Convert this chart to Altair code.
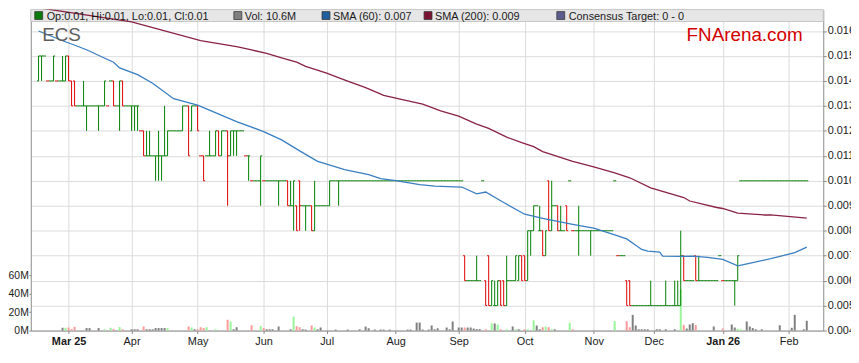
import altair as alt
import pandas as pd

# ---------------- data (prices in thousandths of a dollar, one row per weekday from 17 Feb 2025) -------------
OPEN = [
    14, 15, 15, 14, 14, 14, 14, 14, 14, 14,
    15, 14, 14, 13, 13, 13, 13, 13, 13, 13,
    13, 13, 13, 13, 14, 14, 13, 13, 14, 13,
    13, 13, 13, 13, 12, 12, 11, 11, 11, 11,
    11, 11, 11, 11, 12, 12, 12, 12, 12, 13,
    13, 12, 13, 13, 11, 11, 11, 11, 11, 11,
    12, 11, 12, 12, 11, 12, 12, 12, 12, 11,
    11, 10, 10, 10, 10, 10, 10, 10, 10, 10,
    10, 10, 10, 10, 9, 9, 9, 10, 9, 9,
    9, 9, 8, 9, 9, 9, 9, 9, 10, 10,
    10, 10, 10, 10, 10, 10, 10, 10, 10, 10,
    10, 10, 10, 10, 10, 10, 10, 10, 10, 10,
    10, 10, 10, 10, 10, 10, 10, 10, 10, 10,
    10, 10, 10, 10, 10, 10, 10, 10, 10, 10,
    10, 10, 7, 6, 6, 6, 6, 6, 10, 6,
    7, 5, 5, 5, 6, 6, 5, 6, 6, 6,
    6, 7, 7, 6, 8, 8, 9, 8, 8, 7,
    10, 8, 9, 9, 8, 8, 9, 10, 8, 8,
    8, 8, 8, 8, 8, 8, 8, 8, 8, 8,
    8, 8, 10, 7, 7, 7, 6, 6, 5, 5,
    5, 5, 5, 5, 5, 5, 5, 5, 5, 5,
    5, 5, 5, 5, 5, 7, 6, 6, 6, 7,
    6, 6, 6, 6, 6, 6, 6, 7, 6, 6,
    6, 6, 6, 6, 10, 10, 10, 10, 10, 10,
    10, 10, 10, 10, 10, 10, 10, 10, 10, 10,
    10, 10, 10, 10, 10, 10, 10,
]
HIGH = [
    15, 15, 15, 14, 14, 15, 14, 14, 15, 15,
    15, 14, 14, 13, 13, 14, 13, 13, 13, 13,
    13, 13, 14, 13, 14, 14, 13, 14, 14, 13,
    13, 13, 13, 13, 12, 12, 12, 12, 11, 11,
    12, 11, 13, 12, 12, 12, 12, 12, 13, 13,
    13, 13, 13, 13, 11, 11, 11, 12, 11, 12,
    12, 12, 12, 12, 12, 12, 12, 12, 12, 11,
    11, 10, 10, 10, 11, 10, 10, 10, 10, 10,
    10, 10, 10, 10, 10, 10, 9, 10, 9, 9,
    9, 9, 10, 9, 9, 9, 9, 10, 10, 10,
    10, 10, 10, 10, 10, 10, 10, 10, 10, 10,
    10, 10, 10, 10, 10, 10, 10, 10, 10, 10,
    10, 10, 10, 10, 10, 10, 10, 10, 10, 10,
    10, 10, 10, 10, 10, 10, 10, 10, 10, 10,
    10, 10, 7, 6, 6, 6, 7, 6, 10, 6,
    7, 6, 6, 6, 6, 6, 7, 6, 6, 7,
    7, 7, 7, 8, 8, 9, 9, 9, 8, 8,
    10, 10, 9, 9, 9, 8, 9, 10, 8, 8,
    9, 8, 8, 8, 8, 8, 8, 8, 8, 8,
    8, 8, 10, 7, 7, 7, 6, 6, 5, 5,
    5, 5, 5, 5, 6, 5, 5, 5, 5, 6,
    5, 5, 6, 6, 8, 7, 6, 6, 6, 7,
    7, 6, 6, 6, 6, 6, 6, 7, 6, 6,
    6, 6, 6, 7, 10, 10, 10, 10, 10, 10,
    10, 10, 10, 10, 10, 10, 10, 10, 10, 10,
    10, 10, 10, 10, 10, 10, 10,
]
LOW = [
    14, 14, 15, 14, 14, 14, 14, 14, 14, 14,
    14, 13, 13, 13, 13, 13, 12, 13, 13, 13,
    12, 13, 13, 13, 14, 13, 13, 12, 13, 13,
    13, 12, 12, 12, 12, 11, 11, 11, 11, 10,
    10, 10, 11, 11, 12, 12, 12, 12, 12, 13,
    11, 12, 13, 12, 11, 10, 11, 11, 11, 11,
    11, 11, 12, 9, 11, 11, 11, 12, 12, 11,
    10, 10, 10, 10, 9, 10, 10, 10, 10, 10,
    9, 10, 10, 9, 9, 8, 8, 8, 9, 8,
    9, 8, 8, 9, 9, 9, 9, 9, 10, 10,
    9, 10, 10, 10, 10, 10, 10, 10, 10, 10,
    10, 10, 10, 10, 10, 10, 10, 10, 10, 10,
    10, 10, 10, 10, 10, 10, 10, 10, 10, 10,
    10, 10, 10, 10, 10, 10, 10, 10, 10, 10,
    10, 10, 6, 6, 6, 6, 6, 6, 10, 5,
    5, 5, 5, 5, 5, 5, 5, 6, 6, 6,
    6, 6, 6, 6, 7, 8, 9, 8, 7, 7,
    8, 8, 9, 8, 8, 8, 8, 10, 8, 8,
    7, 8, 8, 8, 7, 8, 8, 8, 8, 8,
    8, 8, 10, 7, 7, 7, 5, 5, 5, 5,
    5, 5, 5, 5, 5, 5, 5, 5, 5, 5,
    5, 5, 5, 5, 5, 6, 6, 6, 6, 6,
    6, 6, 6, 6, 6, 6, 6, 7, 6, 6,
    6, 6, 5, 6, 10, 10, 10, 10, 10, 10,
    10, 10, 10, 10, 10, 10, 10, 10, 10, 10,
    10, 10, 10, 10, 10, 10, 10,
]
CLOSE = [
    15, 15, 15, 14, 14, 15, 14, 14, 14, 15,
    14, 13, 13, 13, 13, 13, 13, 13, 13, 13,
    13, 13, 14, 13, 14, 13, 13, 14, 13, 13,
    13, 13, 13, 13, 12, 11, 11, 11, 11, 11,
    11, 11, 11, 12, 12, 12, 12, 12, 13, 13,
    11, 13, 13, 12, 11, 10, 11, 11, 11, 12,
    11, 12, 12, 11, 12, 12, 12, 12, 12, 11,
    11, 10, 10, 10, 11, 10, 10, 10, 10, 10,
    10, 10, 10, 9, 9, 10, 8, 9, 9, 9,
    9, 8, 9, 9, 9, 9, 9, 10, 10, 10,
    10, 10, 10, 10, 10, 10, 10, 10, 10, 10,
    10, 10, 10, 10, 10, 10, 10, 10, 10, 10,
    10, 10, 10, 10, 10, 10, 10, 10, 10, 10,
    10, 10, 10, 10, 10, 10, 10, 10, 10, 10,
    10, 10, 6, 6, 6, 6, 6, 6, 10, 5,
    5, 6, 5, 6, 5, 5, 6, 6, 6, 7,
    7, 6, 6, 8, 8, 9, 9, 8, 7, 8,
    8, 9, 9, 8, 8, 8, 8, 10, 8, 8,
    8, 8, 8, 8, 8, 8, 8, 8, 8, 8,
    8, 8, 10, 7, 7, 7, 5, 5, 5, 5,
    5, 5, 5, 5, 5, 5, 5, 5, 5, 5,
    5, 5, 5, 5, 7, 6, 6, 6, 6, 6,
    6, 6, 6, 6, 6, 6, 6, 7, 6, 6,
    6, 6, 6, 7, 10, 10, 10, 10, 10, 10,
    10, 10, 10, 10, 10, 10, 10, 10, 10, 10,
    10, 10, 10, 10, 10, 10, 10,
]
VOLUME_M = [
    0, 0, 0, 0, 0, 0, 0, 0, 3.0, 3.0,
    3.3, 1.6, 4.0, 0, 0, 0, 2.7, 2.7, 0, 0,
    2.7, 0, 1.4, 0, 3.0, 1.6, 0, 3.8, 1.4, 0,
    0, 1.4, 1.4, 1.4, 0, 4.4, 1.4, 1.4, 1.4, 2.7,
    2.7, 2.7, 2.7, 2.7, 0, 0, 0, 0, 0, 0,
    4.4, 3.3, 1.4, 1.4, 3.6, 2.7, 3.6, 0, 0, 1.4,
    0, 0, 0, 11.7, 9.8, 1.4, 3.6, 0, 0, 0,
    0, 5.8, 0, 0, 4.9, 2.7, 1.4, 1.4, 1.4, 0,
    4.4, 0, 0, 0, 1.4, 15.0, 4.8, 3.6, 1.4, 1.1,
    0, 5.5, 3.3, 1.4, 3.3, 0, 0, 0, 0, 1.1,
    0, 0, 0, 1.1, 0, 0, 0, 1.4, 0, 4.4,
    2.5, 0, 1.1, 0, 1.1, 1.1, 0, 1.1, 0, 0,
    0, 0, 0, 1.1, 1.1, 0, 8.7, 8.7, 1.1, 0,
    1.1, 5.5, 1.4, 2.5, 0, 0, 3.3, 1.4, 9.8, 0,
    3.3, 3.3, 3.3, 3.3, 3.3, 2.2, 1.6, 1.6, 0, 1.4,
    0, 7.7, 7.7, 6.6, 1.4, 0, 1.4, 0, 4.4, 1.4,
    1.4, 0, 1.4, 1.4, 0, 11.0, 5.5, 1.4, 3.6, 4.4,
    3.6, 1.4, 1.4, 0, 0, 0, 0, 8.4, 1.4, 0,
    0, 0, 0, 0, 0, 0, 0, 0, 0, 0,
    0, 0, 10.2, 0, 0, 0, 10.2, 3.6, 17.0, 5.5,
    1.4, 1.4, 1.4, 1.4, 0, 0, 1.4, 1.4, 0, 1.4,
    0, 0, 1.4, 0, 44.5, 6.2, 2.2, 6.6, 8.0, 6.0,
    0, 0, 0, 0, 0, 4.4, 0, 0, 2.2, 0,
    0, 6.6, 3.3, 1.9, 1.4, 0, 9.8, 4.4, 2.7, 1.4,
    0, 1.4, 0, 0, 0, 0, 0, 5.8, 0, 0,
    0, 3.0, 17.0, 0, 0, 1.4, 10.6,
]

SMA60_IDX = [0, 8, 11, 16, 21, 25, 27, 33, 38, 45, 53, 66, 75, 81, 87, 93, 102, 110, 114, 119,
             127, 132, 141, 146, 149, 155, 162, 168, 178, 185, 191, 196, 201, 203, 207, 208, 214,
             218, 223, 228, 233, 238, 244, 252, 256]
SMA60_VAL = [16.00, 15.61, 15.48, 15.25, 14.97, 14.75, 14.52, 14.25, 13.91, 13.29, 13.03, 12.37,
             11.97, 11.64, 11.20, 10.78, 10.45, 10.25, 10.09, 10.01, 9.85, 9.79, 9.75, 9.48, 9.55,
             9.13, 8.66, 8.49, 8.25, 8.10, 7.87, 7.67, 7.25, 7.18, 7.14, 6.98, 6.97, 6.98, 6.93,
             6.85, 6.59, 6.72, 6.88, 7.12, 7.34]
SMA200_IDX = [0, 31, 54, 66, 71, 76, 81, 86, 89, 96, 103, 109, 115, 122, 128, 134, 140, 146, 150,
              156, 161, 165, 168, 178, 185, 192, 197, 204, 215, 217, 226, 228, 233, 242, 244, 256]
SMA200_VAL = [16.93, 16.37, 15.61, 15.37, 15.24, 15.10, 14.92, 14.75, 14.58, 14.31, 13.99, 13.73,
              13.42, 13.23, 13.07, 12.80, 12.59, 12.27, 12.10, 11.75, 11.53, 11.37, 11.17, 10.78,
              10.56, 10.32, 10.12, 9.72, 9.33, 9.19, 8.93, 8.89, 8.70, 8.63, 8.63, 8.50]

MONTH_IDX = [10, 31, 53, 75, 96, 119, 140, 162, 185, 205, 228, 250]
MONTH_LABELS = ["Mar 25", "Apr", "May", "Jun", "Jul", "Aug", "Sep", "Oct", "Nov", "Dec", "Jan 26", "Feb"]
PRICE_TICKS = [0.004, 0.005, 0.006, 0.007, 0.008, 0.009, 0.010, 0.011, 0.012, 0.013, 0.014, 0.015, 0.016]
VOLUME_TICKS_M = [0, 20, 40, 60]

HEADER_LABELS = ["Op:0.01, Hi:0.01, Lo:0.01, Cl:0.01", "Vol: 10.6M", "SMA (60): 0.007",
                 "SMA (200): 0.009", "Consensus Target: 0 - 0"]
TICKER = "ECS"
BRAND = "FNArena.com"

# ---------------- styling / layout ----------------
W, H = 800, 324
PAD = {"left": 23, "top": 0, "right": 28, "bottom": 18}
X_DOMAIN = [-0.94, 259.85]
PRICE_DOMAIN = [0.004, 0.004 + H / 25200]
VOL_DOMAIN = [0, H / 0.933]
FONT = "Liberation Sans, Arial, Helvetica, sans-serif"
GREEN, RED = "#008000", "#e00000"
VOL_UP, VOL_DOWN, VOL_FLAT = "#98f598", "#ff9a9a", "#808080"
SMA60_COLOR, SMA200_COLOR = "#3a7fc2", "#8a2246"
HEADER_SWATCHES = ["#0a7a0a", "#7f7f7f", "#1f5fa0", "#7a1232", "#5c5c8e"]
HEADER_POS = [(4, 16), (205, 216), (294, 305), (397, 408), (531, 543)]
GRID = "#dcdcdc"
AXIS = "#8a8a8a"
LABEL = "#1a1a1a"

n = len(OPEN)
assert all(len(a) == n for a in (HIGH, LOW, CLOSE, VOLUME_M)), [len(a) for a in (OPEN, HIGH, LOW, CLOSE, VOLUME_M)]
prev = [OPEN[0]] + CLOSE[:-1]
rows = []
for i in range(n):
    o, h, l, c, p = OPEN[i], HIGH[i], LOW[i], CLOSE[i], prev[i]
    down = c < o or (h == l and c < p)
    if down:
        vcol = VOL_DOWN
    elif c > p:
        vcol = VOL_UP
    else:
        vcol = VOL_FLAT
    rows.append(dict(i=i, ol=i - 0.5, cr=i + 0.5, o=o / 1000, h=h / 1000, l=l / 1000, c=c / 1000,
                     v=VOLUME_M[i], pcol=RED if down else GREEN, vcol=vcol))
df = pd.DataFrame(rows)

label_expr = " : ".join(f"datum.value == {k} ? '{t}'" for k, t in zip(MONTH_IDX, MONTH_LABELS)) + " : ''"
bold_test = " || ".join(f"datum.value == {k}" for k, t in zip(MONTH_IDX, MONTH_LABELS) if any(ch.isdigit() for ch in t))

x_scale = alt.Scale(domain=X_DOMAIN, nice=False, zero=False)
x_axis = alt.Axis(values=MONTH_IDX, labelExpr=label_expr, title=None, grid=True, gridColor=GRID,
                  domainColor=AXIS, tickColor=AXIS, tickSize=3, labelPadding=2.5, labelFontSize=11,
                  labelColor=LABEL, labelFont=FONT, labelFlush=False, labelOverlap=False,
                  labelFontWeight={"condition": {"test": bold_test, "value": "bold"}, "value": "normal"})


def X(field):
    return alt.X(f"{field}:Q", scale=x_scale, axis=x_axis, title=None)


price_scale = alt.Scale(domain=PRICE_DOMAIN, nice=False, zero=False)
price_axis = alt.Axis(orient="right", values=PRICE_TICKS, format=".3f", title=None, grid=True,
                      gridColor=GRID, domainColor=AXIS, tickColor=AXIS, tickSize=3, labelPadding=1,
                      labelFontSize=11, labelColor=LABEL, labelFont=FONT)
vol_axis = alt.Axis(orient="left", values=VOLUME_TICKS_M, labelExpr="datum.value + 'M'", title=None,
                    grid=False, domainColor=AXIS, tickColor=AXIS, tickSize=2, labelPadding=0.5,
                    labelFontSize=10.5, labelColor=LABEL, labelFont=FONT)

one = alt.Chart(pd.DataFrame({"k": [0]}))

header = one.mark_rect(fill="#e6e6e6", stroke="#c6c6c6", strokeWidth=1).encode(
    x=alt.value(0), x2=alt.value(W), y=alt.value(0), y2=alt.value(12))

vol = alt.Chart(df).transform_filter("datum.v > 0").mark_bar(size=2).encode(
    x=X("i"),
    y=alt.Y("v:Q", scale=alt.Scale(domain=VOL_DOMAIN, nice=False), axis=vol_axis),
    color=alt.Color("vcol:N", scale=None))

hl = alt.Chart(df).mark_rule(strokeWidth=1).encode(
    x=X("i"), y=alt.Y("l:Q", scale=price_scale, axis=price_axis), y2="h:Q",
    color=alt.Color("pcol:N", scale=None))
op = alt.Chart(df).mark_rule(strokeWidth=1).encode(
    x=X("ol"), x2="i:Q", y=alt.Y("o:Q", scale=price_scale, axis=None),
    color=alt.Color("pcol:N", scale=None))
cl = alt.Chart(df).mark_rule(strokeWidth=1).encode(
    x=X("i"), x2="cr:Q", y=alt.Y("c:Q", scale=price_scale, axis=None),
    color=alt.Color("pcol:N", scale=None))

sma60 = alt.Chart(pd.DataFrame({"i": SMA60_IDX, "sma": [v / 1000 for v in SMA60_VAL]})).mark_line(
    color=SMA60_COLOR, strokeWidth=1.3, clip=True).encode(
    x=X("i"), y=alt.Y("sma:Q", scale=price_scale, axis=None))
sma200 = alt.Chart(pd.DataFrame({"i": SMA200_IDX, "sma": [v / 1000 for v in SMA200_VAL]})).mark_line(
    color=SMA200_COLOR, strokeWidth=1.3, clip=True).encode(
    x=X("i"), y=alt.Y("sma:Q", scale=price_scale, axis=None))

legend_layers = []
for label, col, (sx, tx) in zip(HEADER_LABELS, HEADER_SWATCHES, HEADER_POS):
    legend_layers.append(one.mark_rect(fill=col, stroke="#3a3a3a", strokeWidth=0.8).encode(
        x=alt.value(sx), x2=alt.value(sx + 8), y=alt.value(2), y2=alt.value(10)))
    legend_layers.append(one.mark_text(align="left", baseline="alphabetic", fontSize=11, font=FONT,
                                       color=LABEL, text=label).encode(x=alt.value(tx), y=alt.value(10)))

ticker = one.mark_text(align="left", baseline="alphabetic", fontSize=19, font=FONT, color="#5e5e5e",
                       text=TICKER).encode(x=alt.value(11.5), y=alt.value(31.5))
brand = one.mark_text(align="left", baseline="alphabetic", fontSize=19, font=FONT, color="#d40000",
                      text=BRAND).encode(x=alt.value(662), y=alt.value(31.5))

chart = alt.layer(header, vol, hl, op, cl, sma200, sma60, *legend_layers, ticker, brand).resolve_scale(
    y="independent").properties(
    width=W, height=H, autosize=alt.AutoSizeParams(type="none"), padding=PAD, background="white"
).configure_view(stroke=None)

chart.save("out.html", embed_options={"renderer": "svg", "actions": False})
